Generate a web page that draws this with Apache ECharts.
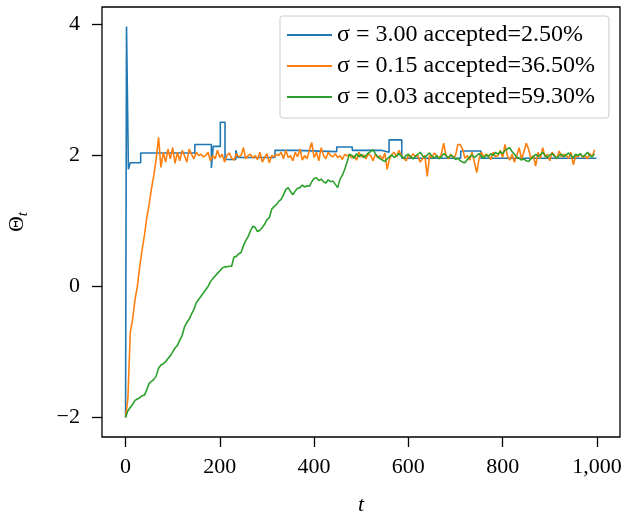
<!DOCTYPE html>
<html>
<head>
<meta charset="utf-8">
<script src="https://cdn.jsdelivr.net/npm/echarts@6/dist/echarts.min.js"></script>
<style>
html,body{margin:0;padding:0;background:#fff;}
#chart{width:626px;height:515px;}
</style>
</head>
<body>
<div id="chart"></div>
<script>
// ---- data ----
const legendNames = [
  'σ = 3.00 accepted=2.50%',
  'σ = 0.15 accepted=36.50%',
  'σ = 0.03 accepted=59.30%'
];
const xTicks = [0, 200, 400, 600, 800, 1000];
const yTicks = [-2, 0, 2, 4];

// sigma = 3.00 : piecewise-constant trace (t where value changes, value)
const blueT = [0, 2, 6, 10, 32, 147, 182, 186, 201, 211, 234, 238, 317, 362, 448, 481, 542, 559, 586, 711, 754, 999];
const blueV = [-2.00, 3.97, 1.79, 1.89, 2.04, 2.17, 1.81, 2.14, 2.51, 1.94, 2.08, 1.97, 2.08, 2.06, 2.13, 2.08, 2.05, 2.24, 1.96, 2.07, 1.96, 1.96];

// sigma = 0.15 : value every 5 steps (t = 0, 5, ..., 995)
const orangeV = [
 -2.00,-1.70,-0.70,-0.50,-0.20, 0.00, 0.30, 0.55, 0.78, 1.05,
  1.25, 1.50, 1.70, 1.95, 2.28, 1.82, 2.05, 1.90, 2.10, 1.95,
  2.12, 1.88, 2.05, 1.92, 2.08, 2.00, 1.90, 2.10, 2.02, 1.95,
  2.05, 2.00, 2.02, 1.98, 2.00, 2.05, 1.92, 2.00, 1.95, 2.08,
  1.97, 2.02, 1.90, 2.00, 2.04, 1.96, 1.93, 2.03, 1.98, 2.00,
  2.12, 1.95, 2.00, 2.02, 1.96, 2.00, 1.94, 2.05, 1.90, 1.97,
  2.03, 1.89, 2.00, 1.98, 2.02, 2.00, 2.05, 1.95, 2.08, 1.97,
  2.00, 1.92, 2.05, 1.98, 2.10, 1.93, 2.00, 1.95, 2.08, 2.20,
  1.97, 2.05, 1.92, 2.12, 2.00, 1.95, 2.05, 2.00, 1.98, 2.03,
  1.97, 2.00, 1.94, 2.02, 1.99, 2.02, 1.96, 2.00, 1.93, 2.05,
  1.98, 2.01, 1.95, 2.03, 2.00, 1.92, 2.02, 1.97, 2.00, 1.94,
  2.04, 1.79, 1.95, 2.02, 2.05, 1.98, 2.08, 2.00, 1.96, 1.92,
  2.00, 1.97, 2.03, 1.98, 2.00, 1.90, 1.95, 2.00, 1.68, 2.00,
  1.97, 2.04, 2.00, 1.96, 2.02, 2.19, 2.00, 1.95, 2.02, 1.97,
  2.00, 2.17, 2.17, 2.10, 1.96, 2.00, 1.93, 2.05, 1.90, 1.74,
  1.95, 2.05, 1.98, 2.02, 2.00, 1.94, 2.05, 1.98, 2.00, 2.08,
  1.97, 2.17, 2.00, 1.93, 2.02, 1.90, 2.00, 2.12, 1.95, 2.05,
  2.19, 2.10, 1.95, 2.00, 1.84, 2.05, 1.96, 2.12, 1.98, 2.02,
  1.92, 2.05, 2.00, 1.95, 2.07, 1.98, 2.02, 2.00, 1.96, 2.05,
  1.86, 2.00, 1.98, 2.03, 1.97, 2.00, 1.95, 2.03, 1.98, 2.09
];

// sigma = 0.03 : value every 5 steps (t = 0, 5, ..., 995)
const greenV = [
 -2.00,-1.90,-1.85,-1.80,-1.74,-1.72,-1.70,-1.67,-1.66,-1.58,
 -1.48,-1.45,-1.42,-1.37,-1.25,-1.20,-1.18,-1.15,-1.10,-1.06,
 -1.00,-0.94,-0.90,-0.82,-0.75,-0.62,-0.55,-0.50,-0.42,-0.35,
 -0.25,-0.20,-0.15,-0.10,-0.05, 0.00, 0.07, 0.12, 0.16, 0.20,
  0.24, 0.28, 0.30, 0.30, 0.31, 0.31, 0.45, 0.46, 0.50, 0.52,
  0.62, 0.70, 0.76, 0.85, 0.92, 0.90, 0.84, 0.86, 0.90, 0.95,
  1.02, 1.05, 1.18, 1.22, 1.25, 1.30, 1.33, 1.40, 1.48, 1.51,
  1.45, 1.40, 1.46, 1.50, 1.51, 1.55, 1.52, 1.54, 1.53, 1.60,
  1.65, 1.66, 1.62, 1.64, 1.60, 1.58, 1.63, 1.60, 1.61, 1.56,
  1.51, 1.64, 1.70, 1.79, 1.90, 2.02, 2.00, 1.96, 2.03, 1.98,
  2.02, 1.97, 2.00, 2.04, 2.06, 2.09, 2.03, 1.98, 1.95, 1.93,
  1.91, 1.95, 1.98, 2.01, 1.97, 2.00, 2.03, 1.99, 1.96, 2.00,
  2.02, 1.98, 1.95, 1.99, 2.02, 2.05, 2.00, 1.97, 2.01, 2.04,
  1.99, 1.96, 2.00, 1.95, 1.98, 2.03, 2.00, 1.97, 2.01, 1.98,
  1.94, 1.96, 1.92, 1.90, 1.89, 1.94, 1.98, 2.01, 1.97, 2.00,
  2.03, 1.99, 1.96, 2.01, 1.98, 2.03, 2.00, 2.05, 2.02, 2.06,
  2.03, 2.08, 2.10, 2.12, 2.06, 2.02, 1.98, 1.96, 1.93, 1.95,
  1.92, 1.91, 1.95, 1.98, 2.02, 1.99, 2.01, 2.05, 2.00, 1.97,
  2.01, 2.03, 1.99, 1.96, 2.00, 2.02, 1.98, 2.01, 2.04, 2.00,
  1.97, 2.02, 2.00, 2.03, 1.98, 2.01, 2.05, 2.00, 1.98, 2.03
];
const sampleStep = 5;

// ---- build series data ----
const blueData = blueT.map((t, i) => [t, blueV[i]]);
const orangeData = orangeV.map((v, i) => [i * sampleStep, v]);
const greenData = greenV.map((v, i) => [i * sampleStep, v]);

const FONT = '"Liberation Serif", "DejaVu Serif", serif';
const fmtNum = v => {
  const a = Math.abs(v).toString().replace(/\B(?=(\d{3})+(?!\d))/g, ',');
  return (v < 0 ? '\u2212' : '') + a;
};

const chart = echarts.init(document.getElementById('chart'), null, {renderer: 'canvas'});
chart.setOption({
  animation: false,
  backgroundColor: '#fff',
  grid: {left: 102, right: 6, top: 7, bottom: 78, containLabel: false, outerBoundsMode: 'none',
         show: true, borderColor: '#000', borderWidth: 1.3, backgroundColor: 'transparent'},
  legend: {
    data: legendNames,
    orient: 'vertical',
    left: 280, top: 16,
    padding: [7, 14, 9, 7],
    backgroundColor: '#fff',
    borderColor: '#cccccc', borderWidth: 1, borderRadius: 3,
    icon: 'rect', itemWidth: 45, itemHeight: 2, itemGap: 7,
    textStyle: {fontFamily: FONT, fontSize: 24, color: '#000', lineHeight: 24, padding: [0, 0, 0, 0]},
    selectedMode: false
  },
  xAxis: {
    type: 'value', min: -50, max: 1049,
    splitLine: {show: false},
    axisLine: {show: false, onZero: false},
    axisTick: {show: true, inside: false, length: 10, customValues: xTicks, lineStyle: {color: '#000', width: 1.3}},
    axisLabel: {customValues: xTicks, formatter: fmtNum, fontFamily: FONT, fontSize: 22, color: '#000', margin: 19},
    name: 't', nameLocation: 'middle', nameGap: 57,
    nameTextStyle: {fontFamily: FONT, fontSize: 22, fontStyle: 'italic', color: '#000'}
  },
  yAxis: {
    type: 'value', min: -2.3, max: 4.27,
    splitLine: {show: false},
    axisLine: {show: false, onZero: false},
    axisTick: {show: true, inside: false, length: 10, customValues: yTicks, lineStyle: {color: '#000', width: 1.3}},
    axisLabel: {customValues: yTicks, formatter: fmtNum, fontFamily: FONT, fontSize: 22, color: '#000', margin: 22},
    name: '{th|Θ}{sub|t}', nameLocation: 'middle', nameGap: 71, nameRotate: 90,
    nameTextStyle: {
      fontFamily: FONT, color: '#000',
      rich: {
        th: {fontFamily: FONT, fontSize: 22, color: '#000', lineHeight: 28, verticalAlign: 'middle'},
        sub: {fontFamily: FONT, fontSize: 15, fontStyle: 'italic', color: '#000', lineHeight: 28, verticalAlign: 'bottom'}
      }
    }
  },
  series: [
    {name: legendNames[0], type: 'line', step: 'end', data: blueData, showSymbol: false, symbol: 'none',
     lineStyle: {color: '#1f77b4', width: 1.6}, itemStyle: {color: '#1f77b4'}, z: 2},
    {name: legendNames[1], type: 'line', data: orangeData, showSymbol: false, symbol: 'none',
     lineStyle: {color: '#ff7f0e', width: 1.6}, itemStyle: {color: '#ff7f0e'}, z: 3},
    {name: legendNames[2], type: 'line', data: greenData, showSymbol: false, symbol: 'none',
     lineStyle: {color: '#2ca02c', width: 1.6}, itemStyle: {color: '#2ca02c'}, z: 4}
  ]
});
</script>
</body>
</html>
